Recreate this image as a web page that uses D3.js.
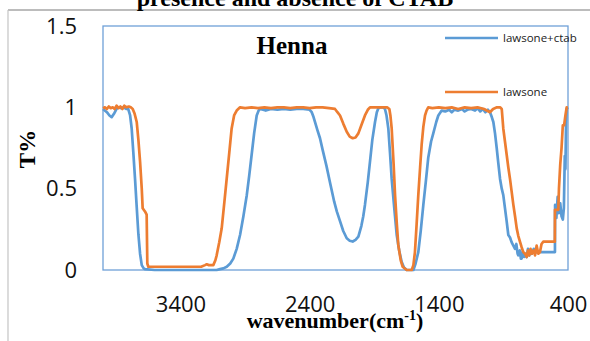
<!DOCTYPE html>
<html>
<head>
<meta charset="utf-8">
<script src="https://cdn.jsdelivr.net/npm/d3@7"></script>
<style>
  body { margin: 0; background: #fff; }
  svg { display: block; }
</style>
</head>
<body>
<svg class="ir-chart" width="590" height="341"></svg>
<script>
// wavenumber (cm-1) and T%, lawsone+ctab
const ctabWn = [4000, 3970, 3950, 3933, 3915, 3895, 3880, 3860, 3840, 3820, 3805, 3790, 3778, 3765, 3752, 3740, 3726, 3713, 3700, 3685, 3675, 3600, 3500, 3400, 3300, 3200, 3120, 3094, 3068, 3042, 3015, 2991, 2965, 2939, 2913, 2887, 2868, 2849, 2830, 2810, 2795, 2784, 2760, 2740, 2700, 2650, 2600, 2550, 2500, 2450, 2400, 2384, 2370, 2359, 2340, 2320, 2300, 2270, 2243, 2210, 2190, 2165, 2140, 2113, 2090, 2067, 2045, 2023, 2000, 1985, 1972, 1950, 1933, 1915, 1894, 1880, 1868, 1850, 1830, 1817, 1805, 1791, 1778, 1765, 1745, 1726, 1707, 1688, 1670, 1649, 1620, 1597, 1580, 1559, 1540, 1520, 1500, 1482, 1460, 1443, 1420, 1404, 1378, 1350, 1320, 1300, 1280, 1250, 1220, 1200, 1180, 1150, 1120, 1100, 1080, 1060, 1040, 1020, 1004, 990, 978, 965, 952, 940, 926, 913, 901, 888, 875, 862, 849, 836, 823, 810, 800, 790, 785, 772, 765, 759, 750, 740, 730, 720, 710, 700, 690, 680, 665, 650, 617, 560, 501, 500, 490, 480, 470, 460, 450, 440, 432, 425, 420, 415, 410, 402];
const ctabT = [0.99, 0.97, 0.95, 0.94, 0.96, 0.99, 1.0, 0.995, 1.0, 0.99, 0.99, 0.95, 0.87, 0.72, 0.56, 0.40, 0.22, 0.10, 0.03, 0.01, 0.005, 0.0, 0.0, 0.0, 0.0, 0.0, 0.0, 0.005, 0.01, 0.02, 0.04, 0.07, 0.13, 0.215, 0.33, 0.46, 0.58, 0.71, 0.84, 0.95, 0.98, 0.99, 0.985, 0.98, 0.99, 0.985, 0.99, 0.985, 0.99, 0.99, 0.985, 0.97, 0.94, 0.91, 0.86, 0.81, 0.74, 0.64, 0.54, 0.42, 0.36, 0.30, 0.24, 0.195, 0.18, 0.175, 0.185, 0.205, 0.27, 0.33, 0.40, 0.54, 0.666, 0.80, 0.91, 0.97, 0.995, 1.0, 1.0, 0.99, 0.95, 0.87, 0.72, 0.56, 0.38, 0.215, 0.12, 0.05, 0.015, 0.0, 0.0, 0.0, 0.04, 0.11, 0.24, 0.40, 0.55, 0.69, 0.79, 0.84, 0.91, 0.95, 0.98, 0.975, 0.985, 0.97, 0.985, 0.98, 0.99, 0.975, 0.985, 0.99, 0.98, 0.995, 0.975, 0.99, 0.97, 0.985, 0.97, 0.94, 0.91, 0.84, 0.75, 0.66, 0.56, 0.50, 0.46, 0.38, 0.30, 0.215, 0.20, 0.17, 0.15, 0.13, 0.16, 0.10, 0.09, 0.12, 0.07, 0.07, 0.11, 0.08, 0.10, 0.08, 0.13, 0.09, 0.12, 0.10, 0.13, 0.11, 0.11, 0.11, 0.11, 0.40, 0.32, 0.45, 0.35, 0.41, 0.33, 0.31, 0.38, 0.70, 0.62, 0.90, 0.99, 1.0];

// lawsone
const lawWn = [4000, 3985, 3970, 3955, 3940, 3925, 3910, 3895, 3880, 3865, 3850, 3835, 3820, 3800, 3785, 3770, 3755, 3739, 3726, 3713, 3700, 3693, 3675, 3662, 3657, 3649, 3600, 3500, 3400, 3300, 3240, 3210, 3197, 3180, 3146, 3130, 3120, 3100, 3081, 3060, 3042, 3020, 3004, 2985, 2965, 2939, 2900, 2850, 2800, 2750, 2700, 2650, 2600, 2550, 2500, 2450, 2400, 2350, 2300, 2250, 2204, 2185, 2165, 2140, 2113, 2090, 2067, 2045, 2023, 2000, 1972, 1950, 1933, 1900, 1850, 1800, 1783, 1775, 1765, 1750, 1739, 1725, 1714, 1695, 1680, 1649, 1610, 1597, 1585, 1572, 1559, 1545, 1533, 1520, 1507, 1495, 1482, 1450, 1400, 1350, 1300, 1250, 1200, 1150, 1100, 1050, 1004, 980, 950, 926, 913, 901, 888, 875, 862, 849, 836, 823, 810, 797, 785, 772, 759, 746, 733, 720, 710, 700, 690, 680, 665, 655, 643, 630, 617, 605, 591, 560, 502, 501, 475, 470, 460, 450, 440, 430, 420, 410, 402];
const lawT = [0.995, 1.0, 0.99, 1.005, 0.995, 1.0, 0.99, 1.01, 0.995, 1.005, 0.99, 1.01, 1.0, 1.005, 1.0, 0.99, 0.96, 0.91, 0.80, 0.666, 0.50, 0.38, 0.36, 0.34, 0.04, 0.02, 0.02, 0.02, 0.02, 0.02, 0.02, 0.03, 0.035, 0.03, 0.03, 0.06, 0.09, 0.17, 0.256, 0.42, 0.564, 0.74, 0.87, 0.95, 0.98, 1.0, 0.995, 1.0, 0.995, 1.0, 0.995, 1.0, 1.0, 0.995, 1.0, 1.0, 0.995, 1.0, 1.0, 0.995, 0.99, 0.97, 0.95, 0.90, 0.85, 0.82, 0.81, 0.815, 0.84, 0.89, 0.95, 0.985, 1.0, 1.0, 1.0, 1.0, 0.99, 0.95, 0.87, 0.65, 0.46, 0.28, 0.154, 0.06, 0.02, 0.0, 0.0, 0.03, 0.11, 0.28, 0.46, 0.63, 0.77, 0.88, 0.95, 0.98, 1.0, 0.995, 1.0, 0.995, 1.0, 0.99, 1.0, 0.995, 1.0, 0.99, 0.97, 0.99, 1.0, 1.0, 0.99, 0.87, 0.79, 0.71, 0.63, 0.56, 0.48, 0.40, 0.33, 0.256, 0.21, 0.174, 0.14, 0.11, 0.10, 0.08, 0.12, 0.09, 0.13, 0.10, 0.12, 0.09, 0.15, 0.10, 0.11, 0.16, 0.174, 0.174, 0.174, 0.37, 0.37, 0.50, 0.65, 0.75, 0.89, 0.89, 0.95, 1.0, 1.0];

const seriesNames = ["lawsone+ctab", "lawsone"];
const xTicks = [3400, 2400, 1400, 400];
const yTicks = [0, 0.5, 1, 1.5];

const svg = d3.select(".ir-chart");
const width = +svg.attr("width");
const height = +svg.attr("height");

// plot area box
const plotLeft = 103, plotRight = 568, plotTop = 26, plotBottom = 270;

const ctabColor = "#5b9bd5";
const lawColor = "#ed7d31";

const xScale = d3.scaleLinear().domain([4000, 400]).range([plotLeft, plotRight]);
const yScale = d3.scaleLinear().domain([0, 1.5]).range([plotBottom, plotTop]);

svg.append("rect").attr("width", width).attr("height", height).attr("fill", "#fff");

// outer chart frame (partly cut off in the picture)
svg.append("line")
  .attr("x1", 8).attr("x2", width).attr("y1", 10).attr("y2", 10)
  .attr("stroke", "#a6a6a6").attr("stroke-width", 1.5);
svg.append("line")
  .attr("x1", 8).attr("x2", 8).attr("y1", 10).attr("y2", height)
  .attr("stroke", "#c4c4c4").attr("stroke-width", 1.2);

// title, only its lower part is visible
svg.append("text")
  .attr("x", 295)
  .attr("y", 6)
  .attr("text-anchor", "middle")
  .style("font-family", "'Liberation Serif', 'Times New Roman', serif")
  .style("font-weight", "bold")
  .style("font-size", "24px")
  .text("presence and absence of CTAB");

// plot area border
svg.append("rect")
  .attr("x", plotLeft).attr("y", plotTop)
  .attr("width", plotRight - plotLeft).attr("height", plotBottom - plotTop)
  .attr("fill", "none")
  .attr("stroke", "#6fa0d8")
  .attr("stroke-width", 1.3);

// axes, labels only
const tickFont = "'Open Sans', sans-serif";
svg.append("g")
  .attr("transform", "translate(0," + plotBottom + ")")
  .call(d3.axisBottom(xScale).tickValues(xTicks).tickSize(0).tickPadding(26).tickFormat(d3.format("d")))
  .call(g => g.select(".domain").remove())
  .selectAll("text")
  .style("font-family", tickFont)
  .style("font-size", "22px")
  .attr("fill", "#111");

svg.append("g")
  .attr("transform", "translate(" + plotLeft + ",0)")
  .call(d3.axisLeft(yScale).tickValues(yTicks).tickSize(0).tickPadding(26).tickFormat(d => d))
  .call(g => g.select(".domain").remove())
  .selectAll("text")
  .style("font-family", tickFont)
  .style("font-size", "22px")
  .attr("fill", "#111");

// series lines
const line = d3.line()
  .x(d => xScale(d[0]))
  .y(d => yScale(d[1]));

const ctabData = d3.zip(ctabWn, ctabT);
const lawData = d3.zip(lawWn, lawT);

svg.append("path")
  .datum(ctabData)
  .attr("d", line)
  .attr("fill", "none")
  .attr("stroke", ctabColor)
  .attr("stroke-width", 2.7)
  .attr("stroke-linejoin", "round");

svg.append("path")
  .datum(lawData)
  .attr("d", line)
  .attr("fill", "none")
  .attr("stroke", lawColor)
  .attr("stroke-width", 2.7)
  .attr("stroke-linejoin", "round");

// "Henna" label inside the plot
svg.append("text")
  .attr("x", 292)
  .attr("y", 54)
  .attr("text-anchor", "middle")
  .style("font-family", "'Liberation Serif', 'Times New Roman', serif")
  .style("font-weight", "bold")
  .style("font-size", "25px")
  .text("Henna");

// legend
const legend = svg.append("g")
  .selectAll("g")
  .data(seriesNames)
  .enter()
  .append("g")
  .attr("transform", (d, i) => "translate(445," + (38 + i * 54) + ")");

legend.append("line")
  .attr("x1", 0).attr("x2", 53)
  .attr("stroke", (d, i) => i === 0 ? ctabColor : lawColor)
  .attr("stroke-width", 2.7);

legend.append("text")
  .attr("x", 58)
  .attr("y", 4)
  .style("font-family", tickFont)
  .style("font-size", "11.5px")
  .attr("fill", "#222")
  .text(d => d);

// axis titles
svg.append("text")
  .attr("transform", "translate(35,149) rotate(-90)")
  .attr("text-anchor", "middle")
  .style("font-family", "'Liberation Serif', 'Times New Roman', serif")
  .style("font-weight", "bold")
  .style("font-size", "23px")
  .text("T%");

const xTitle = svg.append("text")
  .attr("x", 335)
  .attr("y", 328)
  .attr("text-anchor", "middle")
  .style("font-family", "'Liberation Serif', 'Times New Roman', serif")
  .style("font-weight", "bold")
  .style("font-size", "22px");
xTitle.append("tspan").text("wavenumber(cm");
xTitle.append("tspan").attr("dy", -8).style("font-size", "14px").text("-1");
xTitle.append("tspan").attr("dy", 8).text(")");
</script>
</body>
</html>
